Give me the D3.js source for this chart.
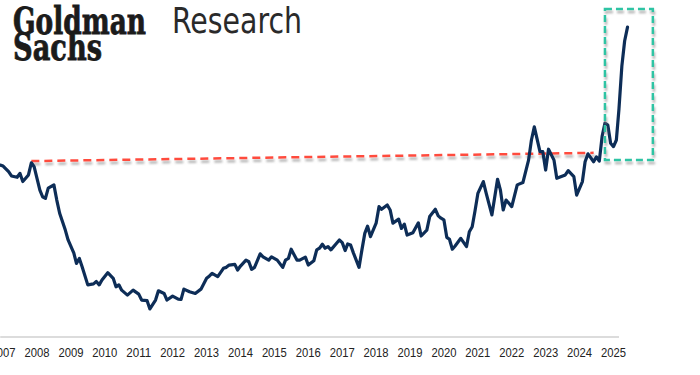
<!DOCTYPE html>
<html lang="en">
<head>
    <meta charset="UTF-8">
    <title>Goldman Sachs Research</title>
    <script src="https://d3js.org/d3.v7.min.js"></script>
    <style>
        body {
            margin: 0;
            padding: 0;
            background-color: #ffffff;
        }
        .line {
            fill: none;
            stroke: #0d2d57;
            stroke-width: 3.2px;
            stroke-linejoin: round;
            stroke-linecap: round;
        }
        .year-label {
            font-family: 'Liberation Sans', Arial, sans-serif;
            font-size: 13px;
            fill: #222;
        }
    </style>
</head>
<body>
    <div id="chart"></div>
    <script>
        // monthly readings (index, arbitrary units)
        const months = [
            "2006-12", "2007-01", "2007-03", "2007-04", "2007-06", "2007-07", "2007-08", "2007-09", "2007-10", "2007-11", "2007-12",
            "2008-01", "2008-02", "2008-03", "2008-04", "2008-05", "2008-07", "2008-08", "2008-09", "2008-11", "2008-12",
            "2009-02", "2009-03", "2009-04", "2009-05", "2009-07", "2009-09", "2009-10", "2009-11", "2009-12",
            "2010-02", "2010-04", "2010-05", "2010-06", "2010-07", "2010-09", "2010-11",
            "2011-01", "2011-02", "2011-04", "2011-05", "2011-07", "2011-08", "2011-10", "2011-11",
            "2012-01", "2012-03", "2012-04", "2012-05", "2012-07", "2012-09", "2012-11",
            "2013-01", "2013-02", "2013-03", "2013-05", "2013-07", "2013-08", "2013-09", "2013-11", "2013-12",
            "2014-01", "2014-03", "2014-04", "2014-05", "2014-06", "2014-08", "2014-09", "2014-11", "2014-12",
            "2015-02", "2015-04", "2015-05", "2015-06", "2015-07", "2015-09", "2015-10", "2015-12",
            "2016-01", "2016-03", "2016-04", "2016-05", "2016-06", "2016-07", "2016-08", "2016-09", "2016-11", "2016-12",
            "2017-01", "2017-02", "2017-03", "2017-04", "2017-05", "2017-07", "2017-08", "2017-09", "2017-10", "2017-11",
            "2018-01", "2018-02", "2018-03", "2018-05", "2018-06", "2018-07", "2018-09", "2018-10", "2018-11", "2018-12",
            "2019-02", "2019-04", "2019-05", "2019-07", "2019-08", "2019-10", "2019-11", "2019-12",
            "2020-01", "2020-02", "2020-03", "2020-04", "2020-05", "2020-07", "2020-09", "2020-10", "2020-11", "2020-12",
            "2021-01", "2021-03", "2021-04", "2021-06", "2021-08", "2021-09", "2021-10", "2021-11",
            "2022-01", "2022-03", "2022-05", "2022-07", "2022-08", "2022-09", "2022-11", "2022-12",
            "2023-01", "2023-02", "2023-04", "2023-05", "2023-08", "2023-09", "2023-11", "2023-12",
            "2024-02", "2024-03", "2024-04", "2024-06", "2024-07", "2024-08", "2024-09", "2024-10", "2024-11", "2024-12",
            "2025-01", "2025-02", "2025-03", "2025-04", "2025-05", "2025-06"
        ];
        const values = [
            52.1, 51.8, 50.1, 48.8, 48.4, 49.6, 47.1, 48.1, 49.1, 52.8, 51.6,
            48.1, 44.5, 42.5, 42.0, 45.1, 46.1, 41.5, 37.5, 32.4, 29.4,
            25.4, 22.3, 23.8, 21.3, 15.8, 16.1, 16.8, 15.8, 17.3,
            19.5, 17.8, 15.2, 15.8, 14.2, 12.7, 14.2,
            13.0, 11.2, 11.0, 8.5, 11.2, 14.0, 13.2, 11.2,
            12.4, 11.5, 11.4, 14.5, 13.7, 13.2, 14.5,
            17.8, 18.5, 19.3, 18.3, 20.8, 21.1, 21.8, 22.0, 20.3,
            21.5, 23.3, 22.8, 20.5, 21.1, 25.2, 24.3, 23.3, 24.3,
            23.3, 21.1, 23.3, 23.8, 26.6, 23.3, 23.3, 24.2,
            21.8, 23.1, 26.4, 26.9, 28.1, 26.9, 27.4, 26.4, 28.4, 29.4,
            28.6, 26.2, 28.2, 27.9, 25.5, 21.1, 26.4, 31.4, 33.6, 30.4,
            34.5, 39.5, 38.7, 40.0, 38.5, 34.5, 35.7, 32.9, 34.2, 30.9,
            31.6, 34.6, 30.6, 32.4, 36.5, 38.7, 36.7, 36.0,
            35.5, 30.2, 29.6, 26.6, 27.6, 29.9, 27.4, 31.9, 33.4, 38.2,
            43.5, 47.1, 43.5, 37.0, 47.8, 44.5, 38.5, 41.5,
            39.5, 46.1, 46.8, 53.6, 59.7, 63.7, 56.2, 56.2,
            50.6, 56.9, 53.6, 48.1, 49.1, 50.4, 48.6, 43.0,
            47.1, 53.1, 55.5, 53.1, 54.6, 53.3, 60.9, 64.8, 64.2, 58.7,
            57.7, 59.7, 69.1, 82.1, 89.7, 93.9
        ];
        const years = d3.range(2007, 2026);

        // annotations: prior-peak reference line and highlight box
        const refLineDates = ["2007-11", "2024-06"];
        const refLineValues = [53.3, 55.8];
        const boxDates = ["2024-10", "2026-03"];
        const boxValues = [53.6, 99.4];
        const axisEnd = "2025-03";

        const parse = d3.timeParse("%Y-%m");
        const data = months.map((m, i) => ({ date: parse(m), value: values[i] }));

        const width = 700;
        const height = 375;

        const svg = d3.select("#chart").append("svg")
            .attr("width", width)
            .attr("height", height);

        const defs = svg.append("defs");
        const shadow = defs.append("filter")
            .attr("id", "shadow")
            .attr("x", "-10%").attr("y", "-50%")
            .attr("width", "130%").attr("height", "300%");
        shadow.append("feDropShadow")
            .attr("dx", 1).attr("dy", 3)
            .attr("stdDeviation", 1.2)
            .attr("flood-color", "#8a8a8a")
            .attr("flood-opacity", 0.65);

        const x = d3.scaleTime()
            .domain([new Date(2008, 0, 1), new Date(2025, 0, 1)])
            .range([37, 613.5]);
        const y = d3.scaleLinear().domain([0, 100]).range([337, 7]);

        // axis line
        svg.append("line")
            .attr("x1", x(data[0].date))
            .attr("x2", x(parse(axisEnd)))
            .attr("y1", y(0))
            .attr("y2", y(0))
            .attr("stroke", "#dcdcdc")
            .attr("stroke-width", 2);

        svg.selectAll(".year-label")
            .data(years)
            .enter().append("text")
            .attr("class", "year-label")
            .attr("x", d => x(new Date(d, 0, 1)))
            .attr("y", 357)
            .attr("text-anchor", "middle")
            .attr("textLength", 25)
            .attr("lengthAdjust", "spacingAndGlyphs")
            .text(d => d);

        // reference line
        svg.append("line")
            .attr("x1", x(parse(refLineDates[0])))
            .attr("x2", x(parse(refLineDates[1])))
            .attr("y1", y(refLineValues[0]))
            .attr("y2", y(refLineValues[1]))
            .attr("stroke", "#ff4b3e")
            .attr("stroke-width", 2.5)
            .attr("stroke-dasharray", "8,5")
            .attr("filter", "url(#shadow)");

        svg.append("path")
            .datum(data)
            .attr("class", "line")
            .attr("d", d3.line().x(d => x(d.date)).y(d => y(d.value)));

        // highlight box
        svg.append("rect")
            .attr("x", x(parse(boxDates[0])))
            .attr("y", y(boxValues[1]))
            .attr("width", x(parse(boxDates[1])) - x(parse(boxDates[0])))
            .attr("height", y(boxValues[0]) - y(boxValues[1]))
            .attr("fill", "none")
            .attr("stroke", "#2ec4a4")
            .attr("stroke-width", 2.5)
            .attr("stroke-dasharray", "7,4")
            .attr("filter", "url(#shadow)");

        // logo
        const logo = svg.append("g")
            .style("font-family", "'DejaVu Serif Condensed', 'DejaVu Serif', serif")
            .style("font-weight", "bold")
            .style("font-size", "38px")
            .style("fill", "#1b1b1b")
            .style("stroke", "#1b1b1b")
            .style("stroke-width", 0.8);
        logo.append("text")
            .attr("x", 13).attr("y", 34)
            .attr("textLength", 133)
            .attr("lengthAdjust", "spacingAndGlyphs")
            .text("Goldman");
        logo.append("text")
            .attr("x", 13).attr("y", 60)
            .attr("textLength", 89)
            .attr("lengthAdjust", "spacingAndGlyphs")
            .text("Sachs");
        svg.append("text")
            .attr("x", 172).attr("y", 33)
            .attr("textLength", 130)
            .attr("lengthAdjust", "spacingAndGlyphs")
            .style("font-family", "'DejaVu Sans Condensed', sans-serif")
            .style("font-size", "36px")
            .style("fill", "#2a2a2a")
            .text("Research");
    </script>
</body>
</html>
